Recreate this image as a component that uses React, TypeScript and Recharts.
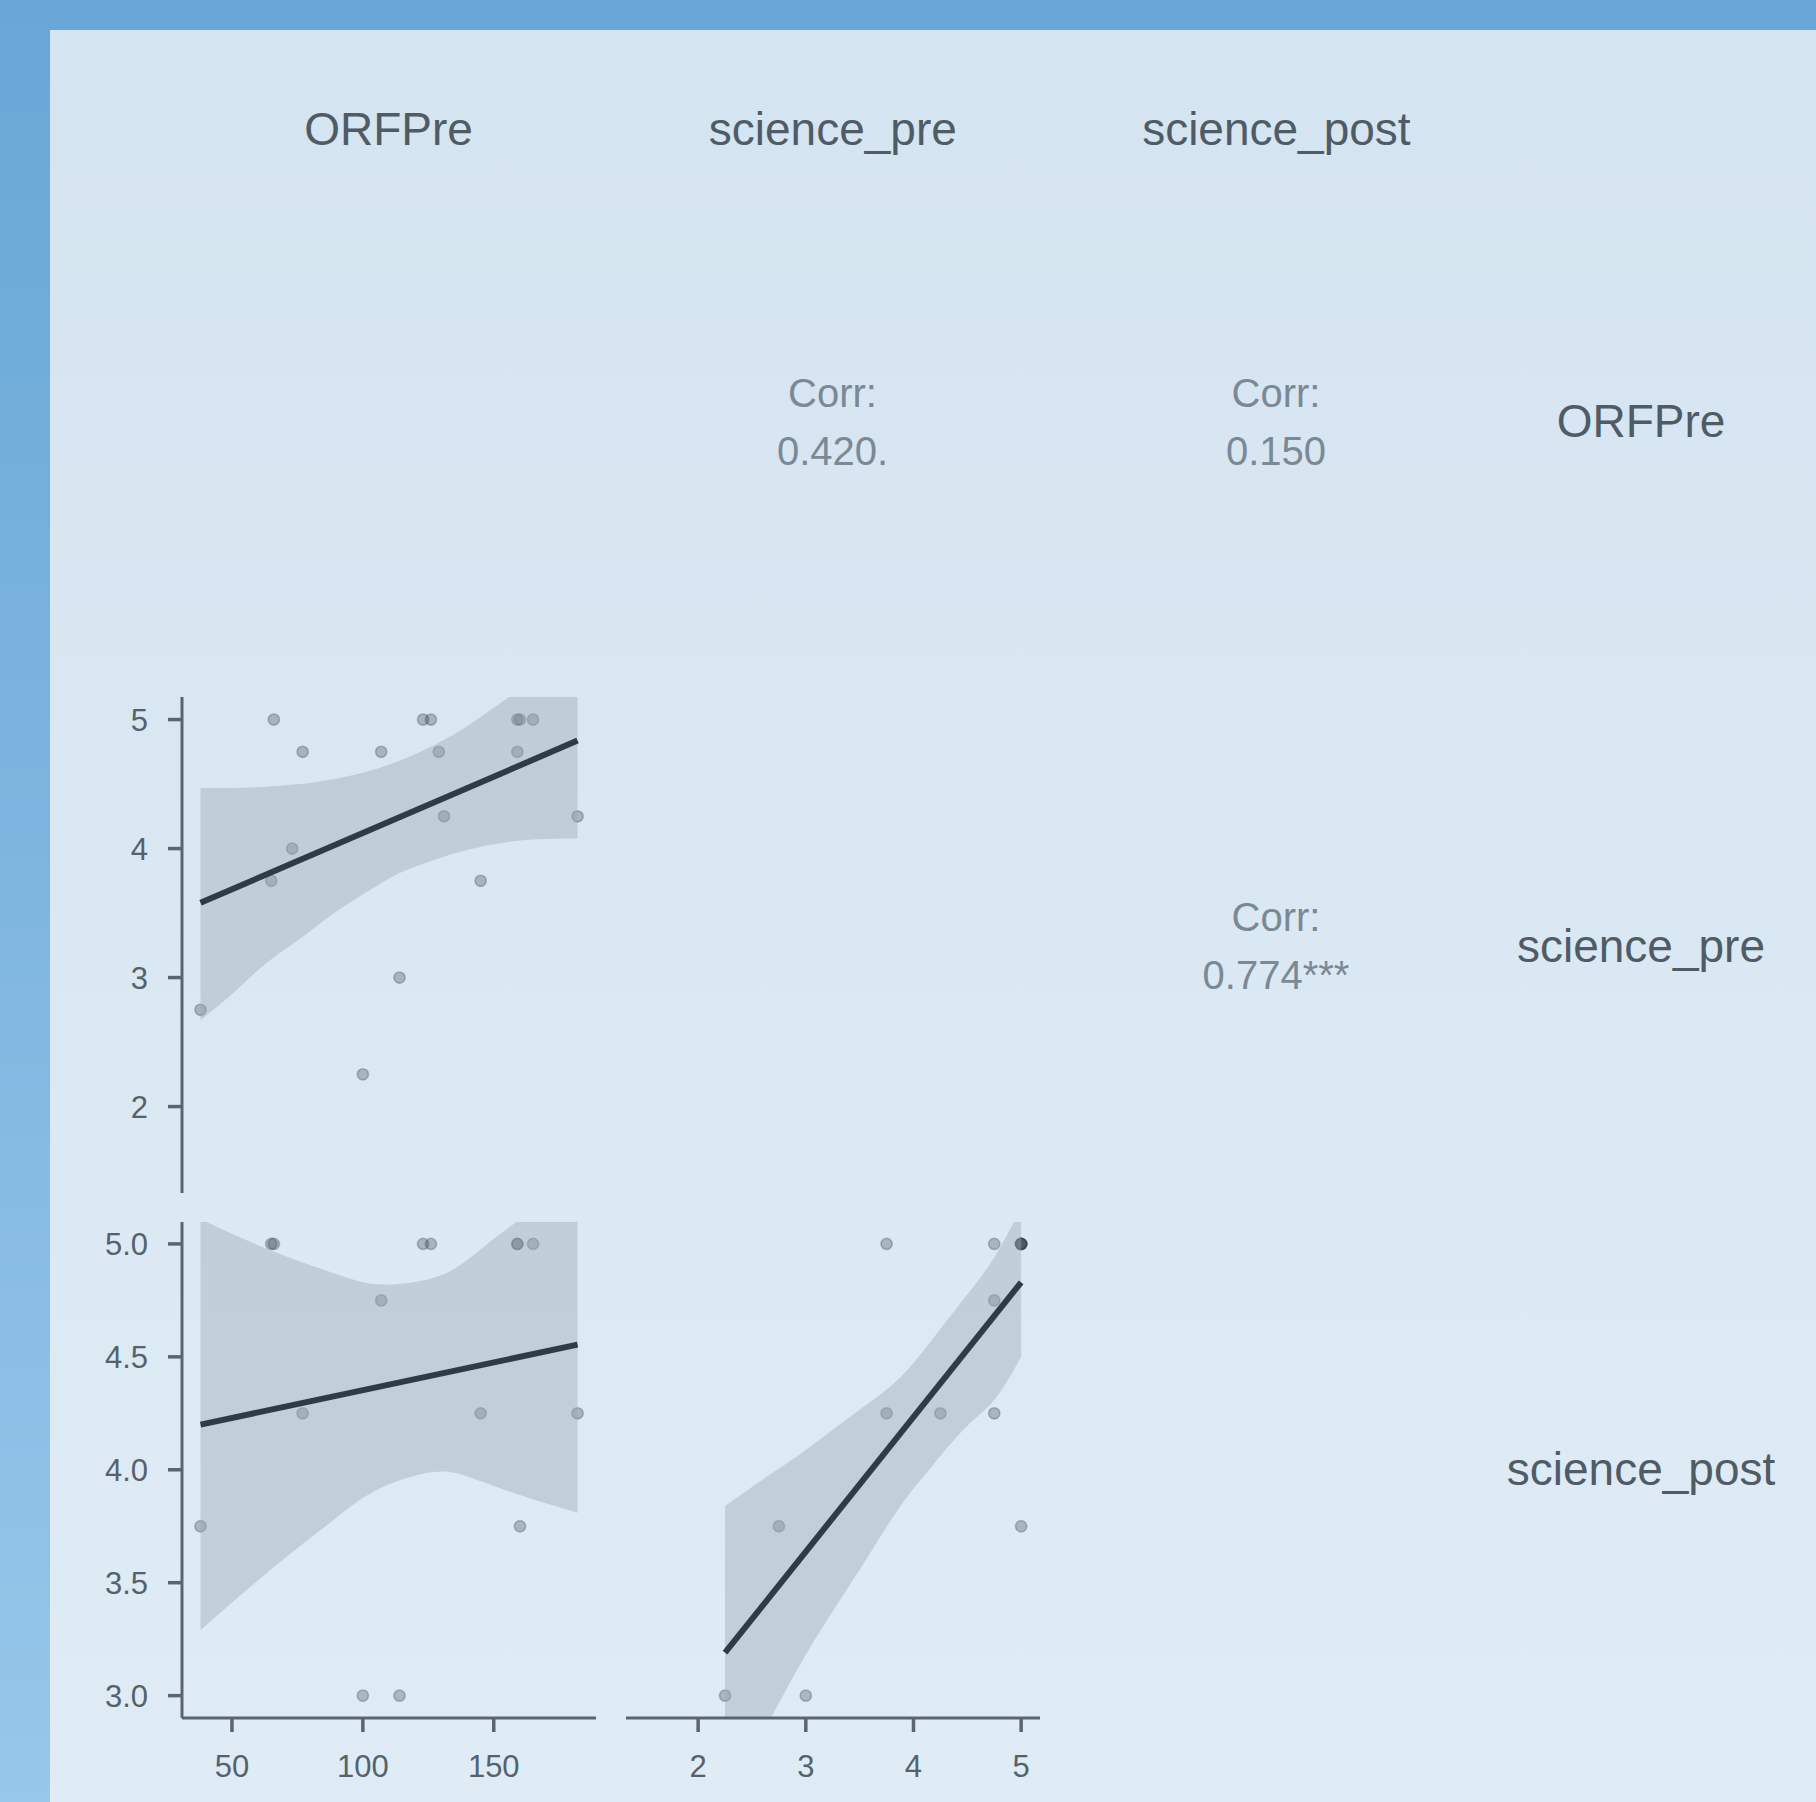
import React from 'react';
import { ComposedChart, XAxis, YAxis, Area, Line, Scatter } from 'recharts';

// ---- data ----
const variables = ['ORFPre', 'science_pre', 'science_post'];
const orfPre = [38, 65, 66, 73, 77, 100, 107, 114, 123, 126, 129, 131, 145, 159, 159, 160, 165, 182];
const sciencePre = [2.75, 3.75, 5, 4, 4.75, 2.25, 4.75, 3, 5, 5, 4.75, 4.25, 3.75, 5, 4.75, 5, 5, 4.25];
const sciencePost: (number | null)[] = [3.75, 5, 5, null, 4.25, 3, 4.75, 3, 5, 5, null, null, 4.25, 5, 5, 3.75, 5, 4.25];

const corrOrfPre = ['Corr:', '0.420.'];
const corrOrfPost = ['Corr:', '0.150'];
const corrPrePost = ['Corr:', '0.774***'];

// fitted lines (endpoints)
const fitPreOnOrf = [{ x: 38, y: 3.58 }, { x: 182, y: 4.837 }];
const fitPostOnOrf = [{ x: 38, y: 4.2 }, { x: 182, y: 4.554 }];
const fitPostOnPre = [{ x: 2.25, y: 3.19 }, { x: 5, y: 4.83 }];

// confidence bands: x, lower, upper
const bandPreOnOrfX = [38, 51, 63, 76, 89, 102, 114, 127, 140, 152, 165, 182];
const bandPreOnOrfLo = [2.67, 2.89, 3.11, 3.3, 3.5, 3.67, 3.81, 3.91, 3.99, 4.04, 4.07, 4.08];
const bandPreOnOrfHi = [4.47, 4.47, 4.48, 4.5, 4.54, 4.6, 4.68, 4.8, 4.95, 5.12, 5.31, 5.59];

const bandPostOnOrfX = [38, 63, 89, 107, 127, 140, 152, 165, 182];
const bandPostOnOrfLo = [3.29, 3.54, 3.78, 3.92, 3.99, 3.97, 3.92, 3.87, 3.81];
const bandPostOnOrfHi = [5.11, 4.98, 4.87, 4.82, 4.85, 4.93, 5.04, 5.15, 5.3];

const bandPostOnPreX = [2.25, 2.64, 2.95, 3.26, 3.57, 3.88, 4.18, 4.49, 4.75, 5.0];
const bandPostOnPreLo = [2.54, 2.87, 3.14, 3.38, 3.61, 3.84, 4.02, 4.19, 4.31, 4.5];
const bandPostOnPreHi = [3.84, 3.97, 4.07, 4.18, 4.29, 4.41, 4.58, 4.77, 4.94, 5.16];

const orfTicks = [50, 100, 150];
const preTicks = [2, 3, 4, 5];
const postTicks = [3.0, 3.5, 4.0, 4.5, 5.0];

const orfDomain: [number, number] = [30.92, 189.05];
const preDomain: [number, number] = [1.33, 5.175];
const postDomain: [number, number] = [2.901, 5.097];

// ---- helpers ----
const pairs = (xs: (number | null)[], ys: (number | null)[]) =>
  xs.map((x, i) => ({ x, y: ys[i] })).filter((p) => p.x != null && p.y != null) as { x: number; y: number }[];

const bandRows = (xs: number[], lo: number[], hi: number[]) => xs.map((x, i) => ({ x, band: [lo[i], hi[i]] }));

const FONT = '"Liberation Sans", Arial, Helvetica, sans-serif';
const AXIS = '#5a656e';
const TICKTXT = '#56626b';

const Dot = (props: any) => {
  const { cx, cy } = props;
  if (cx == null || cy == null) return null;
  return (
    <circle cx={cx} cy={cy} r={5.6} fill="#313e45" fillOpacity={0.3} stroke="#313e45" strokeOpacity={0.3} strokeWidth={1.6} />
  );
};

type PanelProps = {
  left: number;
  top: number;
  plotW: number;
  plotH: number;
  xDomain: [number, number];
  yDomain: [number, number];
  xTicks: number[];
  yTicks: number[];
  showX: boolean;
  showY: boolean;
  yFmt?: (v: number) => string;
  points: { x: number; y: number }[];
  fit: { x: number; y: number }[];
  band: { x: number; band: number[] }[];
};

function Panel(p: PanelProps) {
  const yW = p.showY ? 82 : 0;
  const xH = p.showX ? 80 : 0;
  const W = yW + p.plotW;
  const H = p.plotH + xH;
  return (
    <div style={{ position: 'absolute', left: p.left - yW, top: p.top, width: W, height: H }}>
      <ComposedChart width={W} height={H} margin={{ top: 0, right: 0, bottom: 0, left: 0 }} style={{ fontFamily: FONT }}>
        <XAxis
          type="number"
          dataKey="x"
          domain={p.xDomain}
          ticks={p.xTicks}
          interval={0}
          allowDataOverflow
          hide={!p.showX}
          height={xH}
          tickSize={14}
          tickMargin={23}
          axisLine={{ stroke: AXIS, strokeWidth: 3 }}
          tickLine={{ stroke: AXIS, strokeWidth: 3.5 }}
          tick={{ fill: TICKTXT, fontSize: 31, fontFamily: FONT }}
        />
        <YAxis
          type="number"
          dataKey="y"
          domain={p.yDomain}
          ticks={p.yTicks}
          interval={0}
          allowDataOverflow
          hide={!p.showY}
          width={yW}
          tickSize={14}
          tickMargin={20}
          tickFormatter={p.yFmt}
          axisLine={{ stroke: AXIS, strokeWidth: 3 }}
          tickLine={{ stroke: AXIS, strokeWidth: 3.5 }}
          tick={{ fill: TICKTXT, fontSize: 31, fontFamily: FONT }}
        />
        <Scatter data={p.points} shape={Dot} isAnimationActive={false} zIndex={50} />
        <Area
          data={p.band}
          dataKey="band"
          type="natural"
          fill="#9aaab5"
          fillOpacity={0.42}
          stroke="none"
          isAnimationActive={false}
          activeDot={false}
        />
        <Line data={p.fit} dataKey="y" type="linear" stroke="#2f3c45" strokeWidth={6} dot={false} activeDot={false} isAnimationActive={false} />
      </ComposedChart>
    </div>
  );
}

export default function App() {
  const headX = [388.6, 832.8, 1276.4];
  const rowY = [437, 962, 1485];
  return (
    <div
      style={{
        position: 'fixed',
        left: 0,
        top: 0,
        width: 1816,
        height: 1802,
        overflow: 'hidden',
        background: 'linear-gradient(to bottom, #68a7d6 0%, #7fb6e0 50%, #97c7ea 100%)',
        fontFamily: FONT,
      }}
    >
      <div
        style={{
          position: 'absolute',
          left: 50,
          top: 30,
          width: 1766,
          height: 1772,
          background: 'linear-gradient(to bottom, #d4e4f0 0%, #dae8f3 50%, #dfecf6 100%)',
        }}
      />
      <Panel
        left={182}
        top={697}
        plotW={414}
        plotH={496}
        xDomain={orfDomain}
        yDomain={preDomain}
        xTicks={orfTicks}
        yTicks={preTicks}
        showX={false}
        showY={true}
        points={pairs(orfPre, sciencePre)}
        fit={fitPreOnOrf}
        band={bandRows(bandPreOnOrfX, bandPreOnOrfLo, bandPreOnOrfHi)}
      />
      <Panel
        left={182}
        top={1222}
        plotW={414}
        plotH={496}
        xDomain={orfDomain}
        yDomain={postDomain}
        xTicks={orfTicks}
        yTicks={postTicks}
        showX={true}
        showY={true}
        yFmt={(v: number) => v.toFixed(1)}
        points={pairs(orfPre, sciencePost)}
        fit={fitPostOnOrf}
        band={bandRows(bandPostOnOrfX, bandPostOnOrfLo, bandPostOnOrfHi)}
      />
      <Panel
        left={626}
        top={1222}
        plotW={414}
        plotH={496}
        xDomain={preDomain}
        yDomain={postDomain}
        xTicks={preTicks}
        yTicks={postTicks}
        showX={true}
        showY={false}
        points={pairs(sciencePre, sciencePost)}
        fit={fitPostOnPre}
        band={bandRows(bandPostOnPreX, bandPostOnPreLo, bandPostOnPreHi)}
      />
      <svg width={1816} height={1802} style={{ position: 'absolute', left: 0, top: 0, pointerEvents: 'none' }}>
        <g fontFamily={FONT} textAnchor="middle">
          {variables.map((v, i) => (
            <text key={'h' + v} x={headX[i]} y={145} fontSize={46} fill="#4f5b65">
              {v}
            </text>
          ))}
          {variables.map((v, i) => (
            <text key={'r' + v} x={1641} y={rowY[i]} fontSize={46} fill="#4f5b65">
              {v}
            </text>
          ))}
          <text x={832.5} y={407} fontSize={40} fill="#7b8994">{corrOrfPre[0]}</text>
          <text x={832.5} y={465} fontSize={40} fill="#7b8994">{corrOrfPre[1]}</text>
          <text x={1276} y={407} fontSize={40} fill="#7b8994">{corrOrfPost[0]}</text>
          <text x={1276} y={465} fontSize={40} fill="#7b8994">{corrOrfPost[1]}</text>
          <text x={1276} y={931} fontSize={40} fill="#7b8994">{corrPrePost[0]}</text>
          <text x={1276} y={989} fontSize={40} fill="#7b8994">{corrPrePost[1]}</text>
        </g>
      </svg>
    </div>
  );
}
